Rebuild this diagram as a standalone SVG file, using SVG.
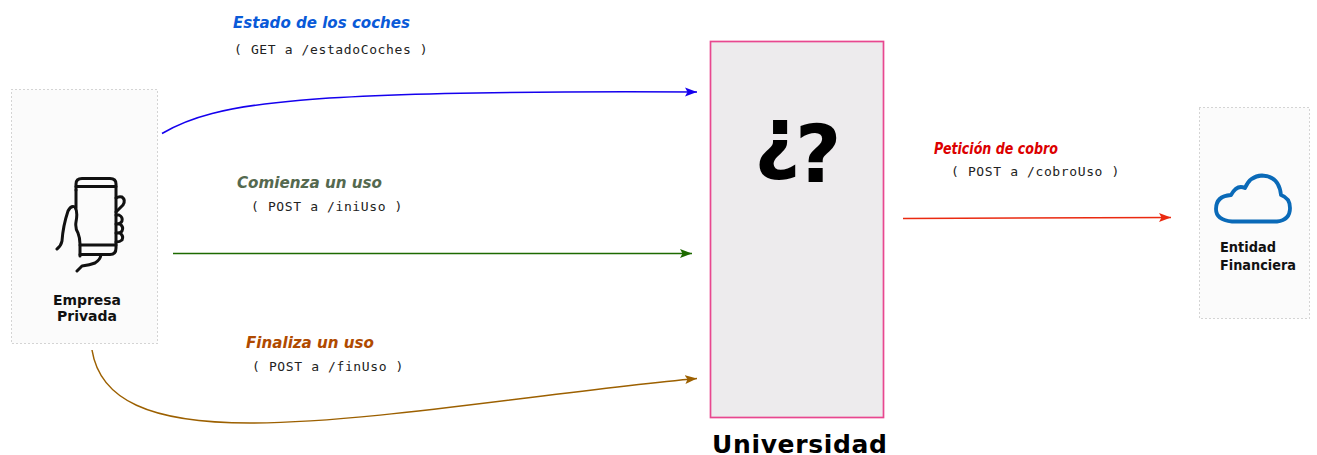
<svg xmlns="http://www.w3.org/2000/svg" width="1317" height="455" viewBox="0 0 1317 455">
<style>
.box{fill:#fbfbfb;stroke:#aaa;stroke-width:1;stroke-dasharray:1 3}
.name{font:bold 13.500px "DejaVu Sans",sans-serif;fill:#111}
.lab{font:italic bold 16.500px "DejaVu Sans Condensed","DejaVu Sans",sans-serif}
.api{font:13px "DejaVu Sans Mono",monospace;fill:#222;letter-spacing:.62px;white-space:pre}
.c{fill:none;stroke-width:1.500}
.ic{fill:none;stroke:#111;stroke-width:3;stroke-linecap:round;stroke-linejoin:round}
</style>
<defs>
<marker id="mb" markerUnits="userSpaceOnUse" markerWidth="13" markerHeight="10" refX="12" refY="4.500" orient="auto"><path d="M0 0L12 4.500L0 9L2.500 4.500Z" fill="#1500ee"/></marker>
<marker id="mg" markerUnits="userSpaceOnUse" markerWidth="13" markerHeight="10" refX="12" refY="4.500" orient="auto"><path d="M0 0L12 4.500L0 9L2.500 4.500Z" fill="#1d6a00"/></marker>
<marker id="mo" markerUnits="userSpaceOnUse" markerWidth="13" markerHeight="10" refX="12" refY="4.500" orient="auto"><path d="M0 0L12 4.500L0 9L2.500 4.500Z" fill="#9c6000"/></marker>
<marker id="mr" markerUnits="userSpaceOnUse" markerWidth="13" markerHeight="10" refX="12" refY="4.500" orient="auto"><path d="M0 0L12 4.500L0 9L2.500 4.500Z" fill="#ea2a10"/></marker>
</defs>
<g id="empresa">
<rect class="box" x="11.500" y="89.500" width="146" height="254"/>
<g class="ic">
<path d="M76 190V184Q76 178.500 82 178.500H110Q116 178.500 116 184V248Q116 254.500 110 254.500H80"/>
<path d="M76 186.500H116M76 190V208M80 245H116"/>
<path d="M116 198Q119 196 122 197Q126 200 123 205L116 212"/>
<path d="M116 215H119Q123 217 122 221Q121 224 116 224M116 224H120Q124 227 122 231Q121 233 116 233M116 233H120Q124 236 122 240Q120 242 116 242"/>
<path d="M57 249Q61 246 62 241Q63 226 68 211Q71 205 75 207Q78 212 76 222Q75 228 78 233Q80 238 80 244V256"/>
<path d="M77 271L82 266Q90 265 95 263Q100 260 101 255"/>
</g>
<text class="name" x="87" y="304.500" text-anchor="middle" textLength="68" lengthAdjust="spacingAndGlyphs">Empresa</text>
<text class="name" x="87" y="321" text-anchor="middle" textLength="60" lengthAdjust="spacingAndGlyphs">Privada</text>
</g>
<g id="universidad">
<rect x="710.500" y="41.500" width="173" height="376" fill="#edebed" stroke="#e8478f" stroke-width="1.700"/>
<text font-family="DejaVu Sans" font-weight="bold" font-size="80"><tspan x="754" y="164">¿</tspan><tspan x="795" y="182">?</tspan></text>
<text x="712" y="453" font-family="DejaVu Sans" font-weight="bold" font-size="25" textLength="175" lengthAdjust="spacing">Universidad</text>
</g>
<g id="entidad">
<rect class="box" x="1199.500" y="107.500" width="110" height="211"/>
<path d="M1232 221.500H1277Q1290 220 1290 208Q1290 198 1281 195Q1279 176 1262 175.500Q1250 176 1245 188Q1237 184 1231 195Q1216 196 1216 209Q1216 220 1232 221.500Z" fill="none" stroke="#0a6ab8" stroke-width="3.800" stroke-linejoin="round"/>
<text class="name" x="1220" y="252" textLength="56" lengthAdjust="spacingAndGlyphs">Entidad</text>
<text class="name" x="1220" y="269.500" textLength="76" lengthAdjust="spacingAndGlyphs">Financiera</text>
</g>
<g id="connectors">
<path class="c" d="M162 133.500C215 102 300 90 697 92" stroke="#1500ee" marker-end="url(#mb)"/>
<path class="c" d="M173 253.500H692" stroke="#1d6a00" marker-end="url(#mg)"/>
<path class="c" d="M92 350C100 400 150 423 250 423C370 423 550 392 697 378.500" stroke="#9c6000" marker-end="url(#mo)"/>
<path class="c" d="M903 218.500L1171 217.500" stroke="#ea2a10" marker-end="url(#mr)"/>
</g>
<g id="labels">
<text class="lab" x="233" y="28" fill="#0a5ad8" textLength="177" lengthAdjust="spacingAndGlyphs">Estado de los coches</text>
<text class="api" x="234" y="54">( GET a /estadoCoches )</text>
<text class="lab" x="237" y="187.500" fill="#55694f" textLength="145" lengthAdjust="spacingAndGlyphs">Comienza un uso</text>
<text class="api" x="251" y="211">( POST a /iniUso )</text>
<text class="lab" x="246" y="347.500" fill="#b04a00" textLength="128" lengthAdjust="spacingAndGlyphs">Finaliza un uso</text>
<text class="api" x="252" y="371">( POST a /finUso )</text>
<text class="lab" x="934" y="153.500" fill="#dc0000" textLength="124" lengthAdjust="spacingAndGlyphs">Petición de cobro</text>
<text class="api" x="951" y="176">( POST a /cobroUso )</text>
</g>
</svg>
